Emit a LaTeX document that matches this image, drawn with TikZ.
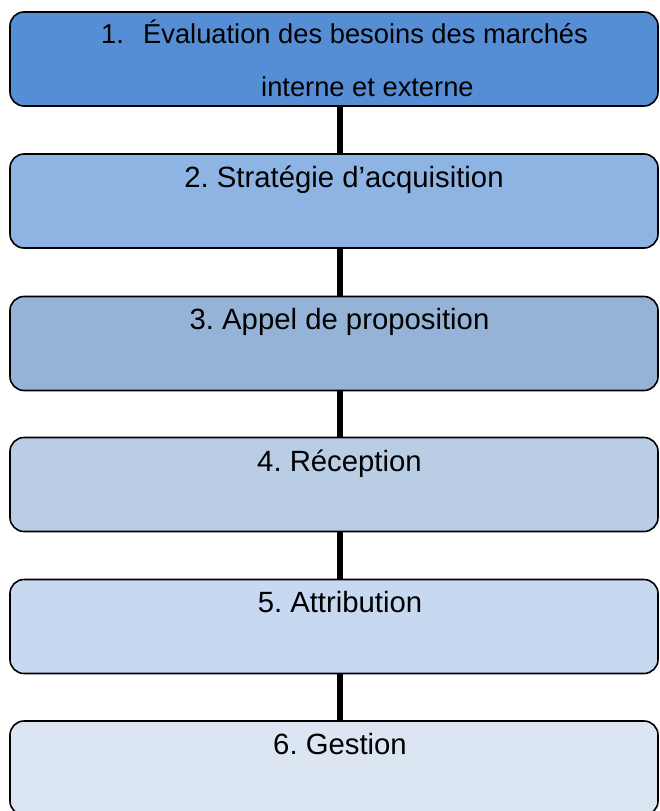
\documentclass[tikz,border=0pt]{standalone}
\usepackage{fontspec}
\setmainfont{Liberation Sans}
\frenchspacing
\definecolor{cA}{RGB}{85,142,213}
\definecolor{cB}{RGB}{142,180,227}
\definecolor{cC}{RGB}{149,179,215}
\definecolor{cD}{RGB}{185,205,229}
\definecolor{cE}{RGB}{198,217,241}
\definecolor{cF}{RGB}{220,230,242}
\begin{document}
\begin{tikzpicture}[x=1bp,y=-1bp,
  stepbox/.style={draw=black,line width=1.6bp,rounded corners=14bp,minimum width=648bp,minimum height=94bp,inner sep=0pt,outer sep=0pt},
  txt/.style={anchor=base,inner sep=0pt,font=\fontsize{29.3bp}{34bp}\selectfont},
  txtw/.style={anchor=base west,inner sep=0pt,font=\fontsize{27.3bp}{34bp}\selectfont},
  link/.style={line width=6bp}]
\useasboundingbox (0,0) rectangle (660,811);
\node[stepbox,fill=cA] (b1) at (334,59) {};
\node[stepbox,fill=cB] (b2) at (334,201) {};
\node[stepbox,fill=cC] (b3) at (334,343.5) {};
\node[stepbox,fill=cD] (b4) at (334,484.5) {};
\node[stepbox,fill=cE] (b5) at (334,626.5) {};
\node[stepbox,fill=cF] (b6) at (334,768) {};
\foreach \a/\b in {b1/b2,b2/b3,b3/b4,b4/b5,b5/b6}
  \draw[link] ([xshift=6bp,yshift=-0.8bp]\a.south) -- ([xshift=6bp,yshift=0.8bp]\b.north);
\node[txtw] (n1) at (101,44) {1.};
\node[txtw] (t1) at (143,44) {Évaluation des besoins des marchés};
\node[txtw] (t1b) at (261,96) {interne et externe};
\node[txt] (t2) at (344,187) {2. Stratégie d’acquisition};
\node[txt] (t3) at (339.5,329) {3. Appel de proposition};
\node[txt] (t4) at (339.5,471) {4. Réception};
\node[txt] (t5) at (340,612) {5. Attribution};
\node[txt] (t6) at (340,754) {6. Gestion};
\end{tikzpicture}
\end{document}
